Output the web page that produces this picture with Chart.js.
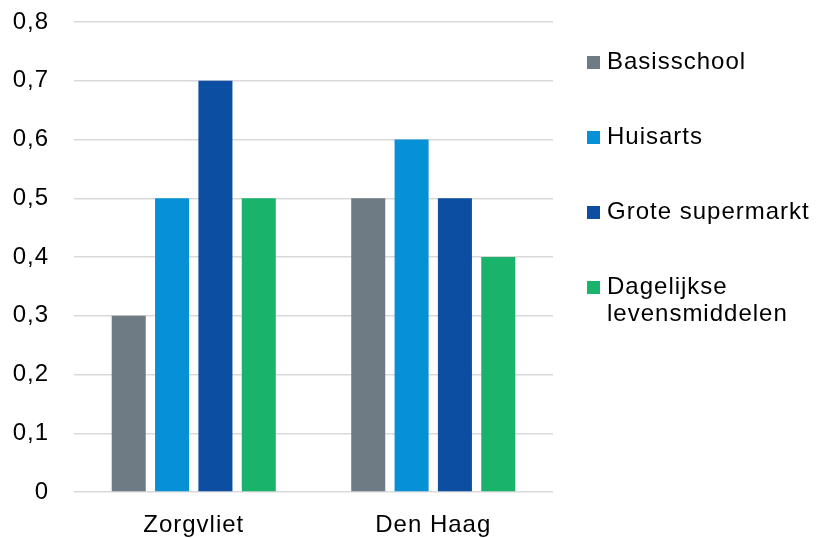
<!DOCTYPE html>
<html>
<head>
<meta charset="utf-8">
<script src="https://cdn.jsdelivr.net/npm/chart.js@4.4.1/dist/chart.umd.min.js"></script>
<style>
  html, body { margin: 0; padding: 0; background: #fff; }
  #wrap { width: 817px; height: 538px; }
</style>
</head>
<body>
<div id="wrap"><canvas id="chart1" width="817" height="538"></canvas></div>
<script>
const categories = ['Zorgvliet', 'Den Haag'];
const seriesNames = ['Basisschool', 'Huisarts', 'Grote supermarkt', 'Dagelijkse levensmiddelen'];
const basisschool = [0.3, 0.5];
const huisarts = [0.5, 0.6];
const groteSupermarkt = [0.7, 0.5];
const dagelijkse = [0.5, 0.4];
const yTickLabels = ['0', '0,1', '0,2', '0,3', '0,4', '0,5', '0,6', '0,7', '0,8'];
const colors = ['#6f7b84', '#0690d5', '#0b4ea2', '#19b36b'];

const FONT = '"Liberation Sans", Arial, sans-serif';
const TEXT = '#000';

// keep a bit of letter spacing like the original rendering
const spacing = {
  id: 'spacing',
  beforeUpdate(chart) { chart.ctx.letterSpacing = '1px'; },
  beforeDraw(chart) { chart.ctx.letterSpacing = '1px'; }
};

// legend drawn on the right side, with wrapping for long names
const sideLegend = {
  id: 'sideLegend',
  afterDraw(chart) {
    const ctx = chart.ctx;
    ctx.save();
    ctx.letterSpacing = '1px';
    ctx.font = '24px ' + FONT;
    ctx.textBaseline = 'middle';
    const boxX = 587, textX = 607, maxW = 817 - textX - 2;
    let y = 62;
    chart.data.datasets.forEach(ds => {
      const words = ds.label.split(' ');
      const lines = [];
      let cur = '';
      words.forEach(w => {
        const test = cur ? cur + ' ' + w : w;
        if (cur && ctx.measureText(test).width > maxW) { lines.push(cur); cur = w; }
        else cur = test;
      });
      lines.push(cur);
      ctx.fillStyle = ds.backgroundColor;
      ctx.fillRect(boxX, y - 6, 13, 13);
      ctx.fillStyle = TEXT;
      lines.forEach((l, i) => ctx.fillText(l, textX, y + i * 27));
      y += 75;
    });
    ctx.restore();
  }
};

const data = [basisschool, huisarts, groteSupermarkt, dagelijkse];

new Chart(document.getElementById('chart1'), {
  type: 'bar',
  data: {
    labels: categories,
    datasets: seriesNames.map((name, i) => ({
      label: name,
      data: data[i],
      backgroundColor: colors[i],
      categoryPercentage: 0.724,
      barPercentage: 0.785
    }))
  },
  options: {
    responsive: false,
    animation: false,
    layout: { autoPadding: false, padding: { top: 22, right: 264, left: 0, bottom: 0 } },
    plugins: {
      legend: { display: false },
      tooltip: { enabled: false }
    },
    scales: {
      x: {
        grid: { display: false },
        border: { display: false },
        ticks: { color: TEXT, padding: 11, font: { family: FONT, size: 24 } },
        afterFit(scale) { scale.height = 46; scale.paddingLeft = 0; scale.paddingRight = 0; }
      },
      y: {
        min: 0,
        max: 0.8,
        border: { display: false },
        grid: { color: '#d9d9d9', lineWidth: 1.5, drawTicks: false },
        ticks: {
          stepSize: 0.1,
          padding: 25,
          color: TEXT,
          font: { family: FONT, size: 24 },
          callback: (v, i) => yTickLabels[i]
        },
        afterFit(scale) { scale.width = 74; scale.paddingTop = 0; scale.paddingBottom = 0; }
      }
    }
  },
  plugins: [spacing, sideLegend]
});
</script>
</body>
</html>
